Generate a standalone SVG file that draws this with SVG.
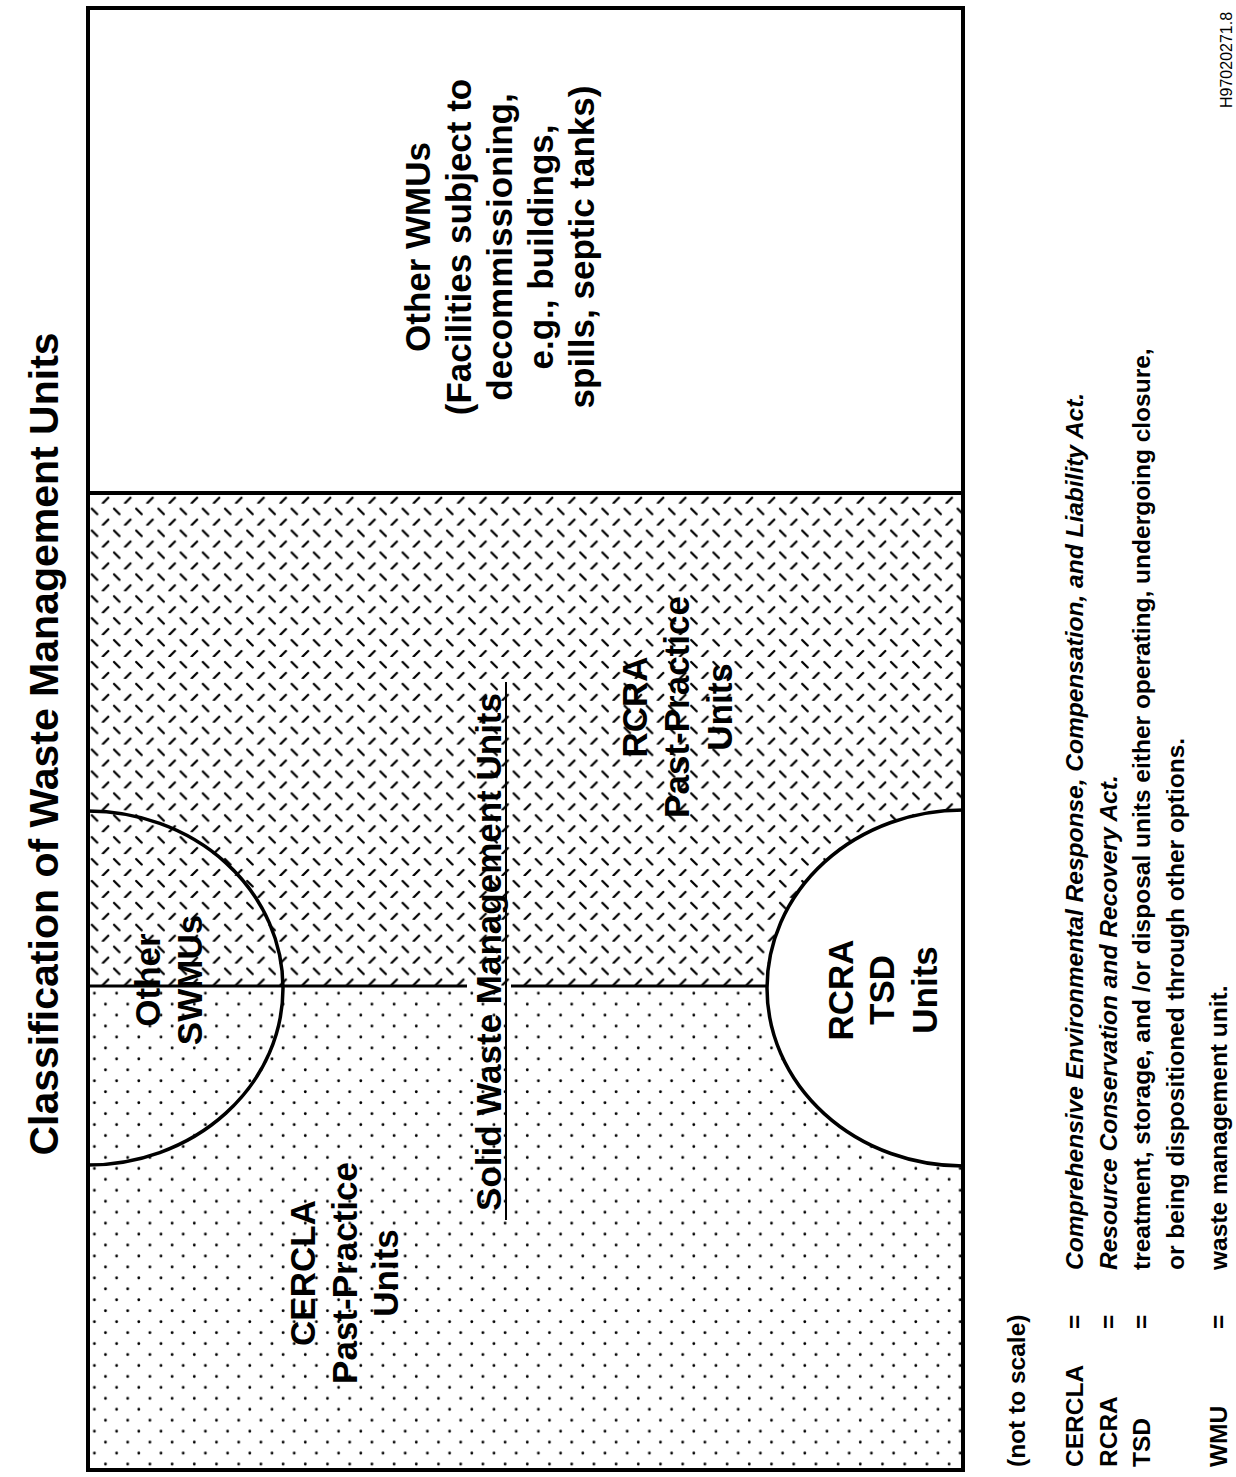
<svg xmlns="http://www.w3.org/2000/svg" width="1236" height="1477" viewBox="0 0 1236 1477">
  <defs>
    <!-- fine dot screen for the CERCLA side -->
    <pattern id="dots" patternUnits="userSpaceOnUse" width="22.2" height="21.9">
      <circle cx="5.6" cy="7.7" r="1.4" fill="#000"/>
      <circle cx="16.7" cy="18.65" r="1.4" fill="#000"/>
    </pattern>
    <!-- tread-plate style dash screen for the RCRA side -->
    <pattern id="tread" patternUnits="userSpaceOnUse" width="22.2" height="21.9">
      <line x1="3" y1="5" x2="8.5" y2="10.5" stroke="#000" stroke-width="2.3" stroke-linecap="round"/>
      <line x1="14" y1="21.4" x2="19.5" y2="15.9" stroke="#000" stroke-width="2.3" stroke-linecap="round"/>
    </pattern>
    <style>
      .lbl { font-family: "Liberation Sans", Arial, Helvetica, sans-serif; font-weight: bold; fill: #000; }
      .big { font-size: 35px; text-anchor: middle; }
      .leg { font-size: 24.5px; text-anchor: start; }
      .def { font-size: 24.5px; text-anchor: start; }
      .it { font-style: italic; }
      .edge { fill: none; stroke: #000; stroke-linecap: butt; }
    </style>
  </defs>

  <rect width="1236" height="1477" fill="#fff"/>

  <!-- title -->
  <text id="title" class="lbl" font-size="41" text-anchor="middle" transform="rotate(-90)" x="-744" y="58">Classification of Waste Management Units</text>

  <!-- shaded areas -->
  <g id="areas">
    <rect id="rcra-area" x="88" y="493" width="875" height="493" fill="url(#tread)"/>
    <rect id="cercla-area" x="88" y="986" width="875" height="484" fill="url(#dots)"/>
    <ellipse id="tsd-area" cx="963" cy="988" rx="196" ry="178" fill="#fff"/>
  </g>

  <!-- boundaries -->
  <g id="connectors">
    <line class="edge" x1="88" y1="493" x2="963" y2="493" stroke-width="4"/>
    <line class="edge" x1="88" y1="986" x2="467" y2="986" stroke-width="3"/>
    <line class="edge" x1="511" y1="986" x2="767" y2="986" stroke-width="3"/>
    <path id="other-swmus-arc" class="edge" d="M88 811 A195 177 0 0 1 88 1165" stroke-width="3.5"/>
    <path id="tsd-arc" class="edge" d="M963 810 A196 178 0 0 0 963 1166" stroke-width="3.5"/>
    <rect id="frame" class="edge" x="88" y="8" width="875" height="1462" stroke-width="4"/>
  </g>

  <g id="other-wmus">
    <text class="lbl big" transform="rotate(-90)" x="-247" y="430">Other WMUs</text>
    <text class="lbl big" transform="rotate(-90)" x="-247" y="471">(Facilities subject to</text>
    <text class="lbl big" transform="rotate(-90)" x="-247" y="512">decommissioning,</text>
    <text class="lbl big" transform="rotate(-90)" x="-247" y="553">e.g., buildings,</text>
    <text class="lbl big" transform="rotate(-90)" x="-247" y="594">spills, septic tanks)</text>
  </g>

  <g id="other-swmus">
    <text class="lbl big" transform="rotate(-90)" x="-980" y="160">Other</text>
    <text class="lbl big" transform="rotate(-90)" x="-980" y="202">SWMUs</text>
  </g>

  <g id="solid-waste-management-units">
    <text class="lbl big" transform="rotate(-90)" x="-952" y="501">Solid Waste Management Units</text>
    <line x1="506" y1="682" x2="506" y2="1220" stroke="#000" stroke-width="2"/>
  </g>

  <g id="rcra-past-practice">
    <text class="lbl big" transform="rotate(-90)" x="-707" y="647">RCRA</text>
    <text class="lbl big" transform="rotate(-90)" x="-707" y="689">Past-Practice</text>
    <text class="lbl big" transform="rotate(-90)" x="-707" y="732">Units</text>
  </g>

  <g id="rcra-tsd">
    <text class="lbl big" transform="rotate(-90)" x="-990" y="853">RCRA</text>
    <text class="lbl big" transform="rotate(-90)" x="-990" y="894">TSD</text>
    <text class="lbl big" transform="rotate(-90)" x="-990" y="937">Units</text>
  </g>

  <g id="cercla-past-practice">
    <text class="lbl big" transform="rotate(-90)" x="-1273" y="315">CERCLA</text>
    <text class="lbl big" transform="rotate(-90)" x="-1273" y="357">Past-Practice</text>
    <text class="lbl big" transform="rotate(-90)" x="-1273" y="398">Units</text>
  </g>

  <!-- key -->
  <g id="legend" transform="rotate(-90)">
    <text class="lbl leg" x="-1467" y="1025">(not to scale)</text>
    <text class="lbl leg" x="-1467" y="1083">CERCLA</text>
    <text class="lbl leg" x="-1467" y="1117">RCRA</text>
    <text class="lbl leg" x="-1467" y="1150">TSD</text>
    <text class="lbl leg" x="-1467" y="1227">WMU</text>
    <text class="lbl leg" x="-1329" y="1083">=</text>
    <text class="lbl leg" x="-1329" y="1117">=</text>
    <text class="lbl leg" x="-1329" y="1150">=</text>
    <text class="lbl leg" x="-1329" y="1227">=</text>
    <text class="lbl def it" x="-1270" y="1083">Comprehensive Environmental Response, Compensation, and Liability Act.</text>
    <text class="lbl def it" x="-1270" y="1117">Resource Conservation and Recovery Act.</text>
    <text class="lbl def" x="-1270" y="1150">treatment, storage, and /or disposal units either operating, undergoing closure,</text>
    <text class="lbl def" x="-1270" y="1184">or being dispositioned through other options.</text>
    <text class="lbl def" x="-1270" y="1227">waste management unit.</text>
  </g>

  <text id="drawing-number" font-family="Liberation Sans, Arial, sans-serif" font-size="16" transform="rotate(-90)" x="-108" y="1232">H97020271.8</text>
</svg>
